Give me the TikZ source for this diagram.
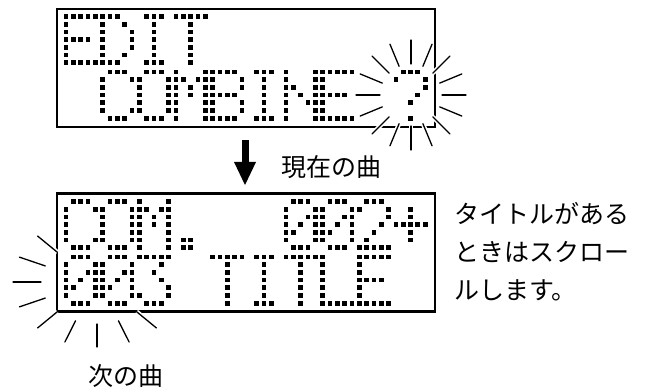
\documentclass[tikz,border=0pt]{standalone}
\usepackage{fontspec}
\usepackage{tikz}
\usetikzlibrary{arrows.meta}
\newfontfamily\jpfont{Noto Sans CJK JP}
\tikzset{
  % --- display ---------------------------------------------------------------
  lcd/.style={draw,line width=2.6pt,minimum width=378pt,minimum height=118pt,
              inner sep=0pt},
  pix/.style={fill=black},
  % --- flashing marks ----------------------------------------------------------
  ray/.style={line width=1.3pt,line cap=round,
              preaction={draw=white,line width=4.5pt}},
  % --- notes -------------------------------------------------------------------
  jp/.style={font=\jpfont\fontsize{25}{38.3}\selectfont,inner sep=0pt},
  down/.style={line width=7pt,-{Triangle[width=22pt,length=23pt,line width=0pt]}},
}

% 5x7 glyphs, top row first, one bit per dot
\newcommand\lcdE{11111,10000,10000,11110,10000,10000,11111}
\newcommand\lcdD{11100,10010,10001,10001,10001,10010,11100}
\newcommand\lcdI{01110,00100,00100,00100,00100,00100,01110}
\newcommand\lcdT{11111,00100,00100,00100,00100,00100,00100}
\newcommand\lcdC{01110,10001,10000,10000,10000,10001,01110}
\newcommand\lcdO{01110,10001,10001,10001,10001,10001,01110}
\newcommand\lcdM{10001,11011,10101,10101,10001,10001,10001}
\newcommand\lcdB{11110,10001,10001,11110,10001,10001,11110}
\newcommand\lcdN{10001,10001,11001,10101,10011,10001,10001}
\newcommand\lcdL{10000,10000,10000,10000,10000,10000,11111}
\newcommand\lcdqm{01110,10001,00001,00010,00100,00000,00100}
\newcommand\lcddot{00000,00000,00000,00000,00000,01100,01100}
\newcommand\lcdzero{01110,10001,10011,10101,11001,10001,01110}
\newcommand\lcdtwo{01110,10001,00001,00010,00100,01000,11111}
\newcommand\lcdthree{11111,00010,00100,00010,00001,10001,01110}
\newcommand\lcdplus{00000,00100,00100,11111,00100,00100,00000}

\newcommand\lcdpx[2]{%
  \ifnum#2=1 \fill[pix] (\gx+#1*\dpx-\dsh,\gy+\rw*\dpy-\dsh)
    rectangle +(2*\dsh,2*\dsh);\fi}
\newcommand\lcdrow[5]{%
  \lcdpx{0}{#1}\lcdpx{1}{#2}\lcdpx{2}{#3}\lcdpx{3}{#4}\lcdpx{4}{#5}}
% {cell}{y of top row}{glyph}
\newcommand\lcdchar[3]{%
  \pgfmathsetmacro\gx{\lcdx+#1*5*\dpx}%
  \def\gy{#2}%
  \expandafter\let\expandafter\glyph\csname lcd#3\endcsname
  \foreach \bits [count=\rw from 0] in \glyph {\expandafter\lcdrow\bits}}

\begin{document}
\begin{tikzpicture}[x=1pt,y=-1pt]
  \def\lcdx{66}        % left dot column
  \def\dpx{7.33}       % dot pitch, across
  \def\dpy{7.7}        % dot pitch, down
  \def\dsh{2.35}       % half a dot

  \useasboundingbox (0,0) rectangle (655,390);

  \node[lcd] (editlcd) at (246,68) {};
  \node[lcd] (comblcd) at (246,252.5) {};

  % blinking "?"
  \foreach \a in {0,22.5,...,337.5}
    \draw[ray] ({411+31*cos(\a)},{95-31*sin(\a)})
            -- ({411+55*cos(\a)},{95-55*sin(\a)});
  % blinking track number
  \foreach \a in {135,157.5,...,315}
    \draw[ray] ({97+56*cos(\a)},{282-42*sin(\a)})
            -- ({97+84*cos(\a)},{282-65*sin(\a)});

  \foreach \k/\ch in {0/E,1/D,2/I,3/T}
    {\lcdchar{\k}{16.5}{\ch}}
  \foreach \k/\ch in {1/C,2/O,3/M,4/B,5/I,6/N,7/E,9/qm}
    {\lcdchar{\k}{72}{\ch}}
  \foreach \k/\ch in {0/C,1/O,2/M,3/dot,6/zero,7/zero,8/two,9/plus}
    {\lcdchar{\k}{201.5}{\ch}}
  \foreach \k/\ch in {0/zero,1/zero,2/three,4/T,5/I,6/T,7/L,8/E}
    {\lcdchar{\k}{257}{\ch}}

  \coordinate (arrowtop) at (245,140);
  \coordinate (arrowtip) at (245,185);
  \draw[down] (arrowtop) -- (arrowtip);

  \node[jp,anchor=west] (nowlabel) at (281,167) {現在の曲};
  \node[jp,anchor=west,align=left] (scrollnote) at (454,251.5)
       {タイトルがある\\ときはスクロー\\ルします。};
  \node[jp] (nextlabel) at (126,376) {次の曲};
\end{tikzpicture}
\end{document}
